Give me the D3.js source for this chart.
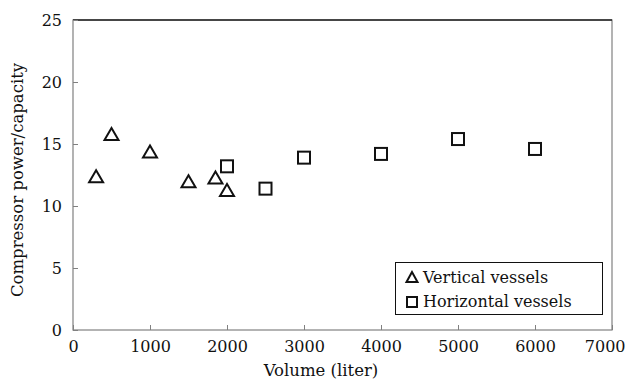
<!DOCTYPE html>
<html>
<head>
<meta charset="utf-8">
<script src="https://cdn.jsdelivr.net/npm/d3@7"></script>
<style>
  html, body { margin: 0; padding: 0; background: #fff; }
  svg { display: block; }
  text { font-family: "DejaVu Serif", "Liberation Serif", serif; fill: #111; }
</style>
</head>
<body>
<svg id="chart" width="628" height="383"></svg>
<script>
// Vertical vessels: volume (liter) and compressor power/capacity
const verticalVolume = [300, 500, 1000, 1500, 1850, 2000];
const verticalRatio  = [12.4, 15.8, 14.4, 12.0, 12.3, 11.3];

// Horizontal vessels
const horizontalVolume = [2000, 2500, 3000, 4000, 5000, 6000];
const horizontalRatio  = [13.2, 11.4, 13.9, 14.2, 15.4, 14.6];

const xTicks = [0, 1000, 2000, 3000, 4000, 5000, 6000, 7000];
const yTicks = [0, 5, 10, 15, 20, 25];

const seriesNames = ["Vertical vessels", "Horizontal vessels"];

const svg = d3.select("#chart");
const margin = { left: 73, right: 16, top: 20, bottom: 53 };
const W = 628, H = 383;
const FONT = "DejaVu Serif, Liberation Serif, serif";

const x = d3.scaleLinear().domain([0, 7000]).range([margin.left, W - margin.right]);
const y = d3.scaleLinear().domain([0, 25]).range([H - margin.bottom, margin.top]);

const axisColor = "#808080";

// frame
svg.append("rect")
  .attr("x", x(0)).attr("y", y(25))
  .attr("width", x(7000) - x(0)).attr("height", y(0) - y(25))
  .attr("fill", "none").attr("stroke", axisColor).attr("stroke-width", 1.2);
svg.append("line")
  .attr("x1", x(0)).attr("x2", x(7000)).attr("y1", y(25)).attr("y2", y(25))
  .attr("stroke", "#222").attr("stroke-width", 1.4);

// bottom axis, inward ticks
const xAxis = d3.axisBottom(x).tickValues(xTicks).tickFormat(d3.format("d"))
  .tickSizeInner(-5).tickSizeOuter(0).tickPadding(7);
const gx = svg.append("g").attr("transform", `translate(0,${y(0)})`).call(xAxis);
gx.select(".domain").remove();
gx.selectAll(".tick line").attr("stroke", axisColor);
gx.selectAll(".tick text").attr("font-size", 16).attr("fill", "#111")
  .attr("font-family", FONT).attr("dy", "0.95em");
// keep the last label inside the page
gx.selectAll(".tick text").filter(d => d === 7000)
  .attr("text-anchor", "end").attr("x", W - 3 - x(7000));

// left axis, inward ticks
const yAxis = d3.axisLeft(y).tickValues(yTicks).tickFormat(d3.format("d"))
  .tickSizeInner(-5).tickSizeOuter(0).tickPadding(11);
const gy = svg.append("g").attr("transform", `translate(${x(0)},0)`).call(yAxis);
gy.select(".domain").remove();
gy.selectAll(".tick line").attr("stroke", axisColor);
gy.selectAll(".tick text").attr("font-size", 16).attr("fill", "#111")
  .attr("font-family", FONT);

// axis titles
svg.append("text")
  .attr("x", 321).attr("y", 376)
  .attr("text-anchor", "middle").attr("font-size", 16.5)
  .text("Volume (liter)");
svg.append("text")
  .attr("transform", `translate(23,180) rotate(-90)`)
  .attr("text-anchor", "middle").attr("font-size", 16.5)
  .text("Compressor power/capacity");

// marker shapes
function trianglePath(cx, cy, w, h) {
  return `M${cx},${cy - h / 2}L${cx - w / 2},${cy + h / 2}L${cx + w / 2},${cy + h / 2}Z`;
}

svg.append("g").selectAll("path")
  .data(d3.zip(verticalVolume, verticalRatio))
  .join("path")
  .attr("d", d => trianglePath(x(d[0]), y(d[1]), 14, 12))
  .attr("fill", "none").attr("stroke", "#111").attr("stroke-width", 2)
  .attr("stroke-linejoin", "miter");

svg.append("g").selectAll("rect")
  .data(d3.zip(horizontalVolume, horizontalRatio))
  .join("rect")
  .attr("x", d => x(d[0]) - 6).attr("y", d => y(d[1]) - 6)
  .attr("width", 12).attr("height", 12)
  .attr("fill", "none").attr("stroke", "#111").attr("stroke-width", 2);

// legend
const lg = svg.append("g");
lg.append("rect")
  .attr("x", 395.5).attr("y", 262.5).attr("width", 207).attr("height", 52)
  .attr("fill", "#fff").attr("stroke", "#111").attr("stroke-width", 1);
lg.append("path")
  .attr("d", trianglePath(412, 277, 11, 10))
  .attr("fill", "none").attr("stroke", "#111").attr("stroke-width", 2);
lg.append("rect")
  .attr("x", 407).attr("y", 297).attr("width", 10).attr("height", 10)
  .attr("fill", "none").attr("stroke", "#111").attr("stroke-width", 2);
lg.selectAll("text.lab")
  .data(seriesNames)
  .join("text")
  .attr("class", "lab")
  .attr("x", 423).attr("y", (d, i) => 283 + i * 24)
  .attr("font-size", 16)
  .text(d => d);
</script>
</body>
</html>
